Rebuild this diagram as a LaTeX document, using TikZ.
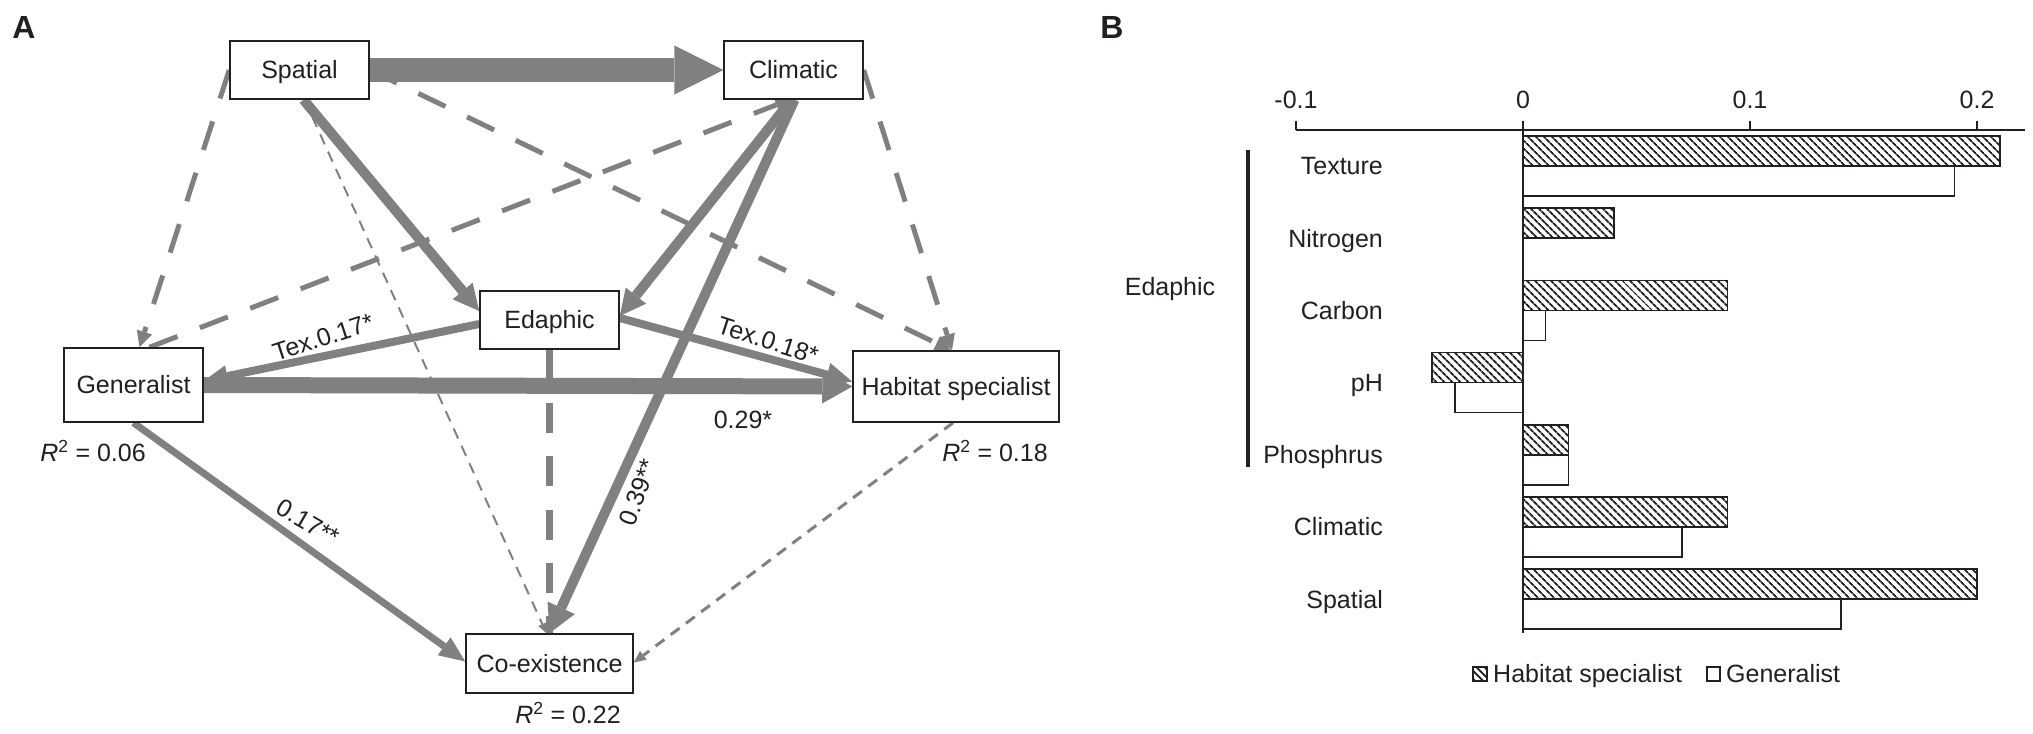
\documentclass[tikz,border=0pt]{standalone}
\usepackage{fontspec}
\setmainfont{Liberation Sans}
\usetikzlibrary{arrows.meta,patterns.meta,calc}
\pgfdeclarelayer{bg}
\pgfsetlayers{bg,main}
\definecolor{ink}{RGB}{35,31,32}
\definecolor{arr}{RGB}{128,128,130}
\newcommand{\fs}{\fontsize{25}{30}\selectfont}
\begin{document}
\begin{tikzpicture}[x=1pt,y=-1pt,
  txt/.style={font=\fs, text=ink, inner sep=0pt, text height=17.9pt, text depth=0pt},
  box/.style={txt, draw=ink, line width=1.5pt, fill=white},
  solidlink/.style={draw=arr, line width=#1},
  dashlink/.style={draw=arr, line width=5pt, dash pattern=on 30pt off 24pt},
  thinlink/.style={draw=arr, line width=#1, dash pattern=on 11pt off 8pt},
  hatch/.style={draw=ink, line width=1.6pt, pattern={Lines[angle=-45,distance=5.4pt,line width=2pt]}, pattern color=ink},
  plain/.style={draw=ink, line width=1.5pt, fill=white},
  panel/.style={font=\fontsize{32}{36}\selectfont\bfseries, text=ink, inner sep=0pt}
]
\useasboundingbox (0,0) rectangle (2033,733);

% ---------- Panel A ----------
\node[panel] (la) at (24,27) {A};
\node[box, minimum width=139pt, minimum height=58pt] (spa) at (299.5,70) {Spatial};
\node[box, minimum width=139pt, minimum height=58pt] (cli) at (793.5,70) {Climatic};
\node[box, minimum width=139pt, minimum height=58pt] (eda) at (549.5,320) {Edaphic};
\node[box, minimum width=139pt, minimum height=74pt] (gen) at (133.5,385) {Generalist};
\node[box, minimum width=206pt, minimum height=71pt] (hab) at (956,386.5) {Habitat specialist};
\node[box, minimum width=167pt, minimum height=59pt] (coe) at (549.5,663.5) {Co-existence};

\begin{pgfonlayer}{bg}
% thin dashed
\draw[thinlink=2pt, -{Triangle[length=10pt,width=9pt,line width=0pt]}] ($(spa.south)+(5,0)$) -- ($(coe.north)+(-3,0)$);
\draw[thinlink=3pt, -{Triangle[length=12pt,width=11pt,line width=0pt]}] ($(hab.south)+(-3,0)$) -- ($(coe.east)+(0,-1)$);
% medium dashed
\draw[dashlink, -{Triangle[length=16pt,width=16pt,line width=0pt]}] (spa.west) -- ($(gen.north)+(6,0)$);
\draw[dashlink, -{Triangle[length=14pt,width=14pt,line width=0pt]}] ($(gen.north)+(16,0)$) -- ($(cli.south)+(-4,0)$);
\draw[dashlink, -{Triangle[length=16pt,width=16pt,line width=0pt]}] (spa.east) -- ($(hab.north)+(-5,0)$);
\draw[dashlink, -{Triangle[length=16pt,width=16pt,line width=0pt]}] (cli.east) -- ($(hab.north)+(-4,0)$);
\draw[draw=arr, line width=7pt, dash pattern=on 30pt off 23.3pt] (eda.south) -- (coe.north);
% solid
\draw[solidlink=10pt, -{Triangle[length=26pt,width=26pt,line width=0pt]}] ($(spa.south)+(4,0)$) -- ($(eda.west)+(0,-9)$);
\draw[solidlink=10pt, -{Triangle[length=26pt,width=26pt,line width=0pt]}] ($(cli.south)+(-2,0)$) -- ($(eda.east)+(0,-4)$);
\draw[solidlink=10pt, -{Triangle[length=28pt,width=30pt,line width=0pt]}] ($(cli.south)+(1,0)$) -- (coe.north);
\draw[solidlink=8pt, -{Triangle[length=24pt,width=22pt,line width=0pt]}] ($(eda.west)+(0,4)$) -- ($(gen.east)+(0,-4)$);
\draw[solidlink=8pt, -{Triangle[length=26pt,width=24pt,line width=0pt]}] ($(eda.east)+(0,-2)$) -- ($(hab.west)+(0,-5)$);
\draw[solidlink=7pt, -{Triangle[length=26pt,width=22pt,line width=0pt]}] (gen.south) -- ($(coe.west)+(0,-2)$);
\draw[solidlink=16pt, -{Triangle[length=30pt,width=34pt,line width=0pt]}] (gen.east) -- (hab.west);
\draw[solidlink=24pt, -{Triangle[length=49pt,width=49pt,line width=0pt]}] (spa.east) -- (cli.west);
\end{pgfonlayer}

\node[txt, rotate=18] (t1) at (323,337) {Tex.0.17*};
\node[txt, rotate=-18] (t2) at (768,340) {Tex.0.18*};
\node[txt] (t3) at (743,420) {0.29*};
\node[txt, rotate=70] (t4) at (638,492) {0.39**};
\node[txt, rotate=-30] (t5) at (308,522) {0.17**};
\node[txt] (r1) at (93,453) {\textit{R}\textsuperscript{2} = 0.06};
\node[txt] (r2) at (995,453) {\textit{R}\textsuperscript{2} = 0.18};
\node[txt] (r3) at (568,715) {\textit{R}\textsuperscript{2} = 0.22};

% ---------- Panel B ----------
\node[panel] (lb) at (1112,27) {B};
\draw[ink, line width=1.5pt] (1296,130) -- (2025,130);
\foreach \x/\t in {1296/-0.1, 1523/0, 1750/0.1, 1977/0.2} {
  \draw[ink, line width=1.5pt] (\x,121) -- (\x,130);
  \node[txt] at (\x,100) {\t};
}
\foreach \k/\hs/\g/\nm in {0/0.21/0.19/Texture, 1/0.04/0/Nitrogen, 2/0.09/0.01/Carbon, 3/-0.04/-0.03/pH, 4/0.02/0.02/Phosphrus, 5/0.09/0.07/Climatic, 6/0.2/0.14/Spatial} {
  \pgfmathsetmacro{\yb}{166+72.2*\k}
  \pgfmathsetmacro{\xh}{1523+(\hs)*2270}
  \pgfmathsetmacro{\xg}{1523+(\g)*2270}
  \draw[hatch] (1523,\yb-30) rectangle (\xh,\yb);
  \draw[plain] (1523,\yb) rectangle (\xg,\yb+30);
  \node[txt, anchor=east] at (1383,\yb) {\nm};
}
\draw[ink, line width=1.5pt] (1523,130) -- (1523,633);
\draw[ink, line width=4.5pt] (1248,150) -- (1248,467);
\node[txt] (ed) at (1170,287) {Edaphic};
% legend
\draw[hatch] (1473,667) rectangle (1487,681);
\node[txt, anchor=west] at (1493,674) {Habitat specialist};
\draw[plain] (1707,667) rectangle (1720,681);
\node[txt, anchor=west] at (1726,674) {Generalist};
\end{tikzpicture}
\end{document}
